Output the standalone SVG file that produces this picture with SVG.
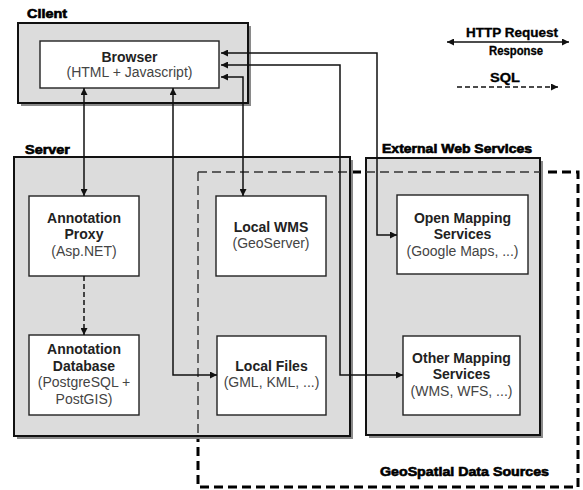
<svg xmlns="http://www.w3.org/2000/svg" width="583" height="490" viewBox="0 0 583 490">
<defs>
<marker id="ah" viewBox="0 0 10 10" refX="10" refY="5" markerWidth="9" markerHeight="7" markerUnits="userSpaceOnUse" orient="auto-start-reverse">
<path d="M0,0 L10,5 L0,10 z" fill="#111"/>
</marker>
<style>
.grp{fill:#dcdcdc;stroke:#111;stroke-width:2}
.shd{fill:#8a8a8a;stroke:none}
.node{fill:#fff;stroke:#222;stroke-width:1.4}
.hd{font-family:"Liberation Sans",Arial,sans-serif;font-weight:900;font-size:12px;fill:#000;stroke:#000;stroke-width:0.6}
.t1{font-family:"Liberation Sans",Arial,sans-serif;font-weight:bold;font-size:14px;fill:#222;text-anchor:middle}
.t2{font-family:"Liberation Sans",Arial,sans-serif;font-size:14px;fill:#444;text-anchor:middle}
.lg{font-family:"Liberation Sans",Arial,sans-serif;font-weight:bold;font-size:12px;fill:#000;text-anchor:middle;stroke:#000;stroke-width:0.3}
.cn{fill:none;stroke:#111;stroke-width:1.5}
.thickdash{fill:none;stroke:#000;stroke-width:3;stroke-dasharray:9,5}
.thindash{fill:none;stroke:#333;stroke-width:1.4;stroke-dasharray:9,5}
</style>
</defs>
<rect width="583" height="490" fill="#fff"/>

<!-- GeoSpatial dashed region (under) -->
<g id="geospatial">
<rect class="thickdash" x="198" y="172" width="380" height="315"/>
</g>

<!-- Group boxes -->
<g id="client">
<rect class="shd" x="21" y="26" width="230" height="80"/>
<rect class="grp" x="18" y="23" width="230" height="80"/>
<text class="hd" x="27" y="18" textLength="40" lengthAdjust="spacingAndGlyphs">Client</text>
</g>
<g id="server">
<rect class="shd" x="17" y="160" width="336" height="279"/>
<rect class="grp" x="14" y="157" width="336" height="279"/>
<text class="hd" x="25" y="154" textLength="45" lengthAdjust="spacingAndGlyphs">Server</text>
</g>
<g id="external">
<rect class="shd" x="369" y="161" width="174" height="277"/>
<rect class="grp" x="366" y="158" width="174" height="277"/>
<text class="hd" x="382" y="153" textLength="150" lengthAdjust="spacingAndGlyphs">External Web Services</text>
</g>

<!-- thin dashed portions over gray boxes -->
<g id="geospatial-overlay">
<line class="thindash" x1="198" y1="172" x2="350" y2="172"/>
<line class="thindash" x1="366" y1="172" x2="540" y2="172"/>
<line class="thindash" x1="198" y1="172" x2="198" y2="436"/>
<text class="hd" x="380" y="476" textLength="169" lengthAdjust="spacingAndGlyphs">GeoSpatial Data Sources</text>
</g>

<!-- Nodes -->
<g id="browser">
<rect class="node" x="40" y="41" width="179" height="47"/>
<text class="t1" x="129.5" y="62">Browser</text>
<text class="t2" x="129.5" y="77">(HTML + Javascript)</text>
</g>
<g id="annotation-proxy">
<rect class="node" x="29" y="196" width="110" height="80"/>
<text class="t1" x="84" y="223">Annotation</text>
<text class="t1" x="84" y="239">Proxy</text>
<text class="t2" x="84" y="256">(Asp.NET)</text>
</g>
<g id="annotation-database">
<rect class="node" x="29" y="335" width="110" height="80"/>
<text class="t1" x="84" y="354">Annotation</text>
<text class="t1" x="84" y="371">Database</text>
<text class="t2" x="84" y="387">(PostgreSQL +</text>
<text class="t2" x="84" y="404">PostGIS)</text>
</g>
<g id="local-wms">
<rect class="node" x="216" y="196" width="110" height="80"/>
<text class="t1" x="271" y="232">Local WMS</text>
<text class="t2" x="271" y="248">(GeoServer)</text>
</g>
<g id="local-files">
<rect class="node" x="217" y="336" width="109" height="79"/>
<text class="t1" x="271.5" y="371">Local Files</text>
<text class="t2" x="271.5" y="387">(GML, KML, ...)</text>
</g>
<g id="open-mapping">
<rect class="node" x="397" y="195" width="131" height="79"/>
<text class="t1" x="462.5" y="223">Open Mapping</text>
<text class="t1" x="462.5" y="239">Services</text>
<text class="t2" x="462.5" y="256">(Google Maps, ...)</text>
</g>
<g id="other-mapping">
<rect class="node" x="403" y="336" width="117" height="79"/>
<text class="t1" x="461.5" y="363">Other Mapping</text>
<text class="t1" x="461.5" y="379">Services</text>
<text class="t2" x="461.5" y="396">(WMS, WFS, ...)</text>
</g>

<!-- Connectors -->
<g id="connectors">
<polyline class="cn" points="221,53 377,53 377,235 397,235" marker-start="url(#ah)" marker-end="url(#ah)"/>
<polyline class="cn" points="221,65 340,65 340,375 403,375" marker-start="url(#ah)" marker-end="url(#ah)"/>
<polyline class="cn" points="221,77 243,77 243,196" marker-start="url(#ah)" marker-end="url(#ah)"/>
<line class="cn" x1="84" y1="88" x2="84" y2="196" marker-start="url(#ah)" marker-end="url(#ah)"/>
<polyline class="cn" points="173,88 173,375 217,375" marker-start="url(#ah)" marker-end="url(#ah)"/>
<line class="cn" x1="84" y1="276" x2="84" y2="335" stroke-dasharray="5,3" marker-end="url(#ah)"/>
</g>

<!-- Legend -->
<g id="legend">
<text class="lg" x="512" y="37" textLength="92" lengthAdjust="spacingAndGlyphs">HTTP Request</text>
<line class="cn" x1="447" y1="42" x2="569" y2="42" marker-start="url(#ah)" marker-end="url(#ah)"/>
<text class="lg" x="516" y="55" textLength="54" lengthAdjust="spacingAndGlyphs">Response</text>
<text class="lg" x="505" y="82" textLength="30" lengthAdjust="spacingAndGlyphs">SQL</text>
<line class="cn" x1="457" y1="87" x2="558" y2="87" stroke-dasharray="5,3" marker-end="url(#ah)"/>
</g>
</svg>
